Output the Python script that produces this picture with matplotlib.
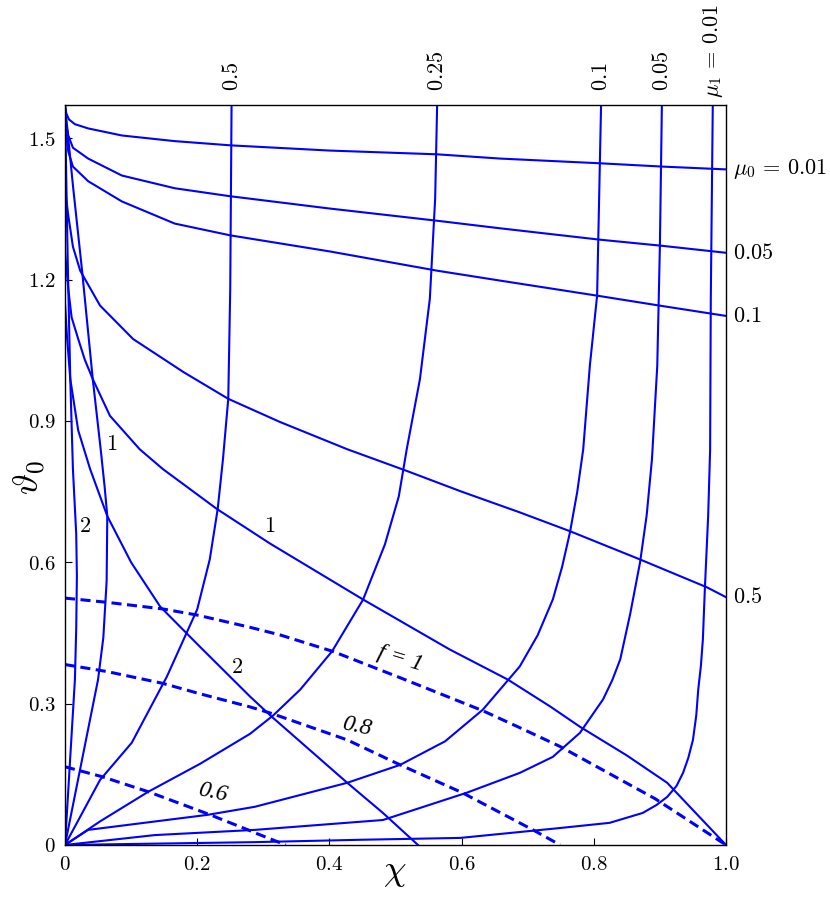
import numpy as np
import matplotlib
matplotlib.use("Agg")
import matplotlib.pyplot as plt

plt.rcParams["mathtext.fontset"] = "cm"
plt.rcParams["font.family"] = ["DejaVu Serif"]

TOP = 1.5708  # pi/2

# ---------------- mu1 = const curves (rise from origin to the top) ----------------
mu1_001_x = [0, 0.287, 0.446, 0.598, 0.749, 0.824, 0.874, 0.895, 0.911, 0.925, 0.935, 0.943, 0.950, 0.955,
             0.958, 0.962, 0.965, 0.968, 0.973, 0.976, 0.977, 0.980]
mu1_001_y = [0, 0.006, 0.011, 0.015, 0.036, 0.047, 0.068, 0.085, 0.102, 0.125, 0.153, 0.185, 0.223, 0.275,
             0.330, 0.380, 0.436, 0.543, 0.698, 0.840, 1.160, TOP]

mu1_005_x = [0, 0.136, 0.287, 0.481, 0.608, 0.688, 0.738, 0.779, 0.814, 0.828, 0.840, 0.855, 0.870, 0.880,
             0.888, 0.896, 0.900, 0.903]
mu1_005_y = [0, 0.021, 0.032, 0.053, 0.111, 0.153, 0.187, 0.238, 0.309, 0.350, 0.394, 0.490, 0.600, 0.700,
             0.819, 1.017, 1.272, TOP]

mu1_01_x = [0, 0.035, 0.216, 0.287, 0.427, 0.507, 0.575, 0.632, 0.688, 0.715, 0.738, 0.752, 0.764, 0.775,
            0.784, 0.794, 0.805, 0.811]
mu1_01_y = [0, 0.032, 0.064, 0.081, 0.132, 0.170, 0.220, 0.287, 0.379, 0.445, 0.521, 0.590, 0.664, 0.750,
            0.840, 1.017, 1.166, TOP]

mu1_025_x = [0, 0.053, 0.126, 0.204, 0.280, 0.315, 0.356, 0.404, 0.451, 0.484, 0.505, 0.517, 0.537, 0.552,
             0.560, 0.563]
mu1_025_y = [0, 0.050, 0.113, 0.172, 0.236, 0.275, 0.330, 0.411, 0.521, 0.638, 0.740, 0.840, 0.989, 1.160,
             1.372, TOP]

mu1_05_x = [0, 0.053, 0.101, 0.154, 0.200, 0.219, 0.231, 0.239, 0.247, 0.250, 0.252]
mu1_05_y = [0, 0.138, 0.217, 0.357, 0.500, 0.606, 0.713, 0.819, 0.947, 1.181, TOP]

mu1_1_x = [0, 0.050, 0.058, 0.063, 0.064, 0.060, 0.054, 0.042, 0.026, 0.012, 0.0]
mu1_1_y = [0, 0.351, 0.440, 0.560, 0.698, 0.760, 0.840, 0.989, 1.217, 1.400, TOP]

mu1_2_x = [0, 0.015, 0.017, 0.018, 0.017, 0.012, 0.008, 0.004, 0.0]
mu1_2_y = [0, 0.351, 0.460, 0.570, 0.660, 0.798, 0.989, 1.250, TOP]

# ---------------- mu0 = const curves (fall from the left edge) ----------------
mu0_001_x = [0, 0.002, 0.006, 0.015, 0.035, 0.086, 0.166, 0.251, 0.400, 0.563, 0.658, 0.809, 0.903, 1.0]
mu0_001_y = [TOP, 1.553, 1.540, 1.530, 1.521, 1.506, 1.494, 1.485, 1.474, 1.466, 1.457, 1.447, 1.440, 1.434]

mu0_005_x = [0, 0.005, 0.012, 0.035, 0.086, 0.166, 0.250, 0.400, 0.563, 0.658, 0.808, 0.902, 1.0]
mu0_005_y = [1.545, 1.506, 1.480, 1.457, 1.421, 1.394, 1.377, 1.351, 1.325, 1.309, 1.285, 1.272, 1.257]

mu0_01_x = [0, 0.005, 0.012, 0.035, 0.086, 0.166, 0.250, 0.400, 0.563, 0.658, 0.805, 0.899, 1.0]
mu0_01_y = [1.53, 1.472, 1.440, 1.409, 1.366, 1.319, 1.294, 1.260, 1.219, 1.198, 1.166, 1.145, 1.123]

mu0_05_x = [0, 0.002, 0.005, 0.012, 0.023, 0.053, 0.103, 0.179, 0.247, 0.325, 0.427, 0.517, 0.600, 0.688,
            0.764, 0.870, 0.971, 1.0]
mu0_05_y = [1.40, 1.37, 1.336, 1.27, 1.219, 1.145, 1.074, 1.004, 0.947, 0.898, 0.840, 0.794, 0.750, 0.706,
            0.666, 0.606, 0.547, 0.526]

mu0_1_x = [0, 0.005, 0.010, 0.020, 0.030, 0.042, 0.068, 0.113, 0.148, 0.230, 0.310, 0.451, 0.582, 0.670,
           0.734, 0.779, 0.850, 0.911, 1.0]
mu0_1_y = [1.26, 1.18, 1.12, 1.074, 1.030, 0.989, 0.911, 0.840, 0.798, 0.713, 0.640, 0.521, 0.415, 0.351,
           0.294, 0.251, 0.190, 0.132, 0.0]

mu0_2_x = [0, 0.003, 0.008, 0.020, 0.038, 0.064, 0.100, 0.144, 0.204, 0.280, 0.313, 0.427, 0.481, 0.534]
mu0_2_y = [1.15, 1.08, 0.989, 0.880, 0.798, 0.698, 0.600, 0.506, 0.421, 0.315, 0.272, 0.132, 0.068, 0.0]

# ---------------- f = const (dashed) ----------------
f1_x = [0, 0.064, 0.148, 0.200, 0.280, 0.325, 0.405, 0.507, 0.632, 0.688, 0.749, 0.893, 1.0]
f1_y = [0.524, 0.515, 0.501, 0.488, 0.462, 0.446, 0.411, 0.355, 0.285, 0.249, 0.209, 0.098, 0.0]

f08_x = [0, 0.064, 0.148, 0.204, 0.280, 0.313, 0.427, 0.507, 0.601, 0.708, 0.749]
f08_y = [0.383, 0.368, 0.343, 0.321, 0.293, 0.279, 0.223, 0.170, 0.111, 0.032, 0.0]

f06_x = [0, 0.056, 0.126, 0.216, 0.277, 0.287, 0.334]
f06_y = [0.166, 0.145, 0.113, 0.066, 0.032, 0.026, 0.0]

x_ticks = [0, 0.2, 0.4, 0.6, 0.8, 1.0]
x_ticklabels = ["0", "0.2", "0.4", "0.6", "0.8", "1.0"]
y_ticks = [0, 0.3, 0.6, 0.9, 1.2, 1.5]
y_ticklabels = ["0", "0.3", "0.6", "0.9", "1.2", "1.5"]

top_labels = [r"$0.5$", r"$0.25$", r"$0.1$", r"$0.05$", r"$\mu_1\,=\,0.01$"]
top_label_x = [0.252, 0.563, 0.811, 0.903, 0.980]
right_labels = [r"$\mu_0\,=\,0.01$", r"$0.05$", r"$0.1$", r"$0.5$"]
right_label_y = [1.434, 1.257, 1.123, 0.526]

# ---------------- plot ----------------
fig = plt.figure(figsize=(8.30, 8.97), dpi=100)
ax = fig.add_axes([0.0783, 0.058, 0.7964, 0.825])

blue = "#0000ff"
solid = [
    (mu1_001_x, mu1_001_y), (mu1_005_x, mu1_005_y), (mu1_01_x, mu1_01_y),
    (mu1_025_x, mu1_025_y), (mu1_05_x, mu1_05_y), (mu1_1_x, mu1_1_y), (mu1_2_x, mu1_2_y),
    (mu0_001_x, mu0_001_y), (mu0_005_x, mu0_005_y), (mu0_01_x, mu0_01_y),
    (mu0_05_x, mu0_05_y), (mu0_1_x, mu0_1_y), (mu0_2_x, mu0_2_y),
]
for xs, ys in solid:
    ax.plot(xs, ys, color=blue, lw=1.5, solid_joinstyle="round")

for xs, ys in [(f1_x, f1_y), (f08_x, f08_y), (f06_x, f06_y)]:
    ax.plot(xs, ys, color=blue, lw=2.2, linestyle=(0, (3.3, 1.8)))

ax.set_xlim(0, 1)
ax.set_ylim(0, TOP)
ax.set_xticks(x_ticks)
ax.set_xticklabels(["$" + s + "$" for s in x_ticklabels], fontsize=15)
ax.set_yticks(y_ticks)
ax.set_yticklabels(["$" + s + "$" for s in y_ticklabels], fontsize=15)
ax.tick_params(direction="in", length=5, width=0.8, pad=7)
for sp in ax.spines.values():
    sp.set_linewidth(1.0)

# axis labels placed in figure coordinates so they stay inside the canvas
fig.text(395 / 830, 1 - 872 / 897, r"$\chi$", fontsize=26, ha="center", va="center")
fig.text(30 / 830, 1 - 478 / 897, r"$\vartheta_0$", fontsize=26, ha="center", va="center",
         rotation=90)

# labels above the top edge (mu1) and right of the right edge (mu0)
top_offsets = [10, 10, 10, 10, 5]
for lab, xv, off in zip(top_labels, top_label_x, top_offsets):
    ax.annotate(lab, xy=(xv, TOP), xytext=(0, off), textcoords="offset points",
                rotation=90, ha="center", va="bottom", fontsize=16, annotation_clip=False)
for lab, yv in zip(right_labels, right_label_y):
    ax.annotate(lab, xy=(1.0, yv), xytext=(5, 0), textcoords="offset points",
                ha="left", va="center", fontsize=16, annotation_clip=False)

# curve labels inside the plot
ax.text(0.071, 0.851, r"$1$", fontsize=16, ha="center", va="center")
ax.text(0.030, 0.677, r"$2$", fontsize=16, ha="center", va="center")
ax.text(0.310, 0.677, r"$1$", fontsize=16, ha="center", va="center")
ax.text(0.260, 0.377, r"$2$", fontsize=16, ha="center", va="center")
ax.text(0.507, 0.395, "f = 1", fontsize=17, ha="center", va="center", rotation=-17,
        family="Liberation Serif", style="italic")
ax.text(0.442, 0.251, "0.8", fontsize=17, ha="center", va="center", rotation=-12,
        family="Liberation Serif", style="italic")
ax.text(0.224, 0.111, "0.6", fontsize=17, ha="center", va="center", rotation=-12,
        family="Liberation Serif", style="italic")

fig.savefig("out.png", dpi=100)
